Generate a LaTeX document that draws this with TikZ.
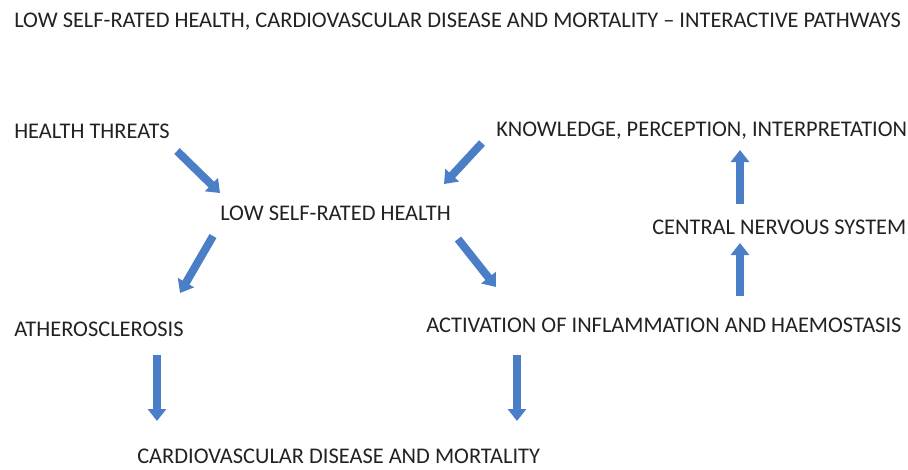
\documentclass[tikz,border=0pt]{standalone}
\usepackage{fontspec}
\setmainfont{Carlito}
\usetikzlibrary{arrows.meta}
\definecolor{arrowblue}{HTML}{4A7EC7}
\definecolor{txt}{HTML}{222222}
\tikzset{
  lbl/.style={anchor=west, inner sep=0pt, text=txt, font=\fontsize{16.8}{19}\selectfont},
  blockarrow/.style={draw=arrowblue, line width=6pt, -{Triangle[width=13.5pt,length=9pt]}, arrowblue}
}
\begin{document}
\begin{tikzpicture}[x=0.75pt,y=-0.75pt]
\useasboundingbox[fill=white] (0,0) rectangle (908,469);
\node[lbl] (title) at (14,22) {LOW SELF-RATED HEALTH, CARDIOVASCULAR DISEASE AND MORTALITY – INTERACTIVE PATHWAYS};
\node[lbl] (threats) at (14,131) {HEALTH THREATS};
\node[lbl] (know) at (496,131) {KNOWLEDGE, PERCEPTION, INTERPRETATION};
\node[lbl] (lsrh) at (220,213) {LOW SELF-RATED HEALTH};
\node[lbl] (cns) at (652,227) {CENTRAL NERVOUS SYSTEM};
\node[lbl] (ath) at (14,329) {ATHEROSCLEROSIS};
\node[lbl] (act) at (426,325) {ACTIVATION OF INFLAMMATION AND HAEMOSTASIS};
\node[lbl] (cvd) at (137,456) {CARDIOVASCULAR DISEASE AND MORTALITY};

\coordinate (a1s) at (177,151); \coordinate (a1e) at (220,193);
\coordinate (a2s) at (482,143); \coordinate (a2e) at (444,184);
\coordinate (a3s) at (213,236); \coordinate (a3e) at (180,293);
\coordinate (a4s) at (458,239); \coordinate (a4e) at (496,287);
\coordinate (a5s) at (740,204); \coordinate (a5e) at (740,150);
\coordinate (a6s) at (740,296); \coordinate (a6e) at (740,243);
\coordinate (a7s) at (157,355); \coordinate (a7e) at (157,421);
\coordinate (a8s) at (517,355); \coordinate (a8e) at (517,421);
\foreach \i in {1,...,8} \draw[blockarrow] (a\i s) -- (a\i e);
\end{tikzpicture}
\end{document}
